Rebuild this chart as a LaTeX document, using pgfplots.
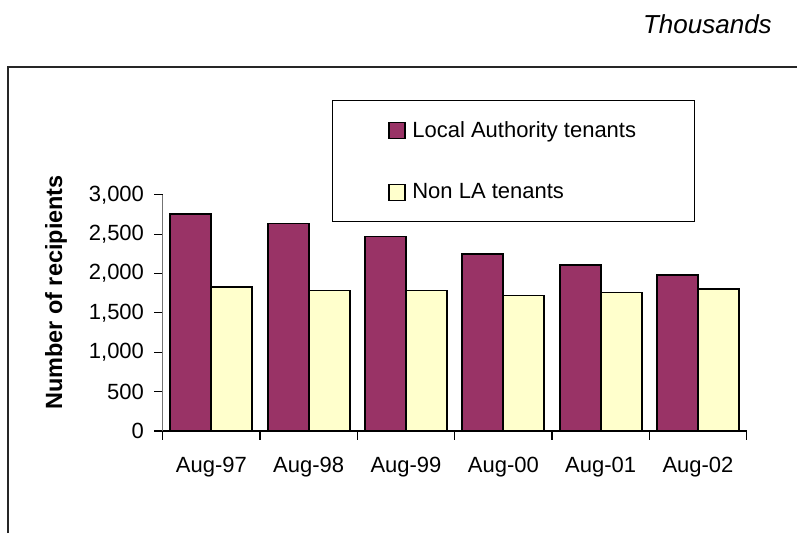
\documentclass[border=0pt]{standalone}
\usepackage{pgfplots}
\pgfplotsset{compat=1.18}
\usepackage{fontspec}
\setmainfont{Liberation Sans}
\definecolor{laMaroon}{HTML}{993366}
\definecolor{nonLA}{HTML}{FFFFCC}
\begin{document}
\begin{tikzpicture}
\useasboundingbox (0,0) rectangle (597.75pt,-399.75pt);
\begin{scope}[x=0.75pt,y=-0.75pt]
  \draw[line width=0.8pt, black!85] (8,533) -- (8,67) -- (797,67);
  \node[anchor=base east, inner sep=0pt, font=\fontsize{19.5}{23}\selectfont\itshape] at (772,33) {Thousands};
\end{scope}
\begin{axis}[
    at={(122.0pt,-323.25pt)}, anchor=south west,
    scale only axis,
    width=438pt, height=177.2pt,
    xmin=-0.5, xmax=5.5,
    ymin=0, ymax=3000,
    ybar=0pt, bar width=30.75pt,
    axis x line*=bottom, axis y line*=left,
    x axis line style={black, line width=0.8pt},
    y axis line style={black!55, line width=0.8pt},
    tick align=outside,
    major tick length=6.5pt,
    tick style={black, line width=0.8pt},
    ytick={0,500,...,3000},
    xtick={-0.5,0.5,...,5.5},
    xticklabels={},
    extra x ticks={0,1,2,3,4,5},
    extra x tick labels={Aug-97,Aug-98,Aug-99,Aug-00,Aug-01,Aug-02},
    extra x tick style={major tick length=0pt, tick label style={yshift=-16pt}},
    tick label style={font=\fontsize{16.5}{19}\selectfont},
    y tick label style={xshift=-4pt},
    /pgf/number format/assume math mode=true,
    /pgf/number format/1000 sep={,},
    ylabel={Number of recipients},
    ylabel style={at={(axis description cs:-0.1827,0.586)}, anchor=center,
        font=\bfseries\fontsize{17.6}{21}\selectfont},
    legend style={at={(0.2904,1.4007)}, anchor=north west, draw=black,
        line width=0.8pt, font=\fontsize{16.5}{19}\selectfont,
        inner xsep=41.75pt, inner ysep=13.75pt, row sep=29pt,
        /tikz/every odd column/.append style={column sep=3pt}},
    legend cell align=left,
    legend image code/.code={\draw[#1, line width=0.9pt] (0pt,-6pt) rectangle (12pt,6pt);},
]
\addplot[fill=laMaroon, draw=black, line width=1.3pt] coordinates {
    (0,2760) (1,2635) (2,2470) (3,2250) (4,2105) (5,1985)
};
\addlegendentry{Local Authority tenants}
\addplot[fill=nonLA, draw=black, line width=1.3pt] coordinates {
    (0,1825) (1,1785) (2,1785) (3,1720) (4,1760) (5,1805)
};
\addlegendentry{Non LA tenants}
\end{axis}
\end{tikzpicture}
\end{document}
